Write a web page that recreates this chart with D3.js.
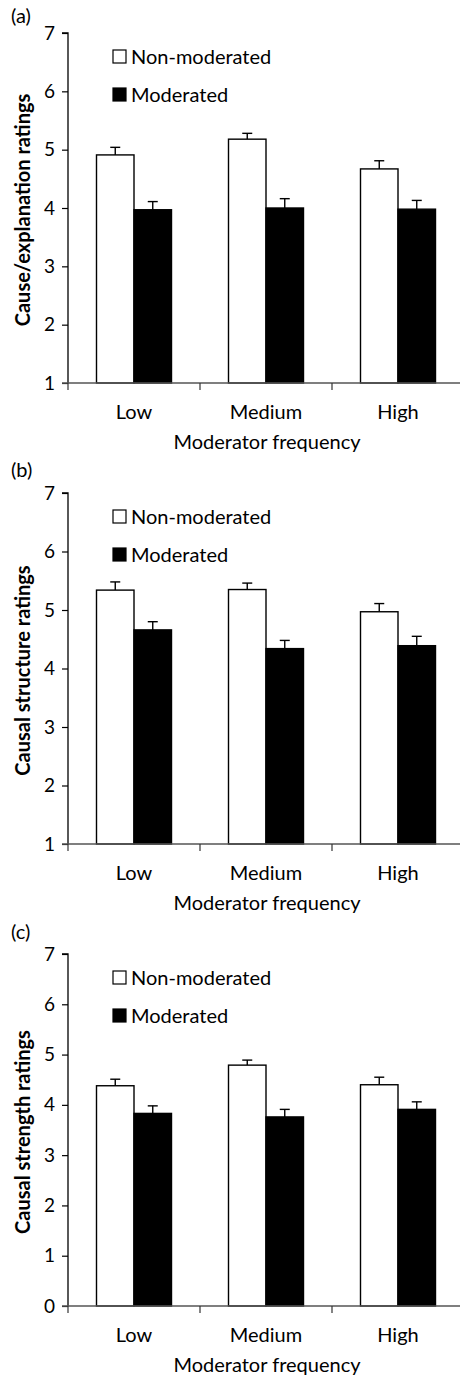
<!DOCTYPE html>
<html>
<head>
<meta charset="utf-8">
<script src="https://cdn.jsdelivr.net/npm/d3@7"></script>
<style>
  body { margin: 0; background: #fff; }
  svg { display: block; font-family: Lato, "Open Sans", sans-serif; }
</style>
</head>
<body>
<div id="chart"></div>
<script>
// categories and series
const categories = ["Low", "Medium", "High"];
const seriesNames = ["Non-moderated", "Moderated"];

// (a) cause/explanation ratings
const causeNon = [4.91, 5.18, 4.67];
const causeNonErr = [0.13, 0.10, 0.14];
const causeMod = [3.97, 4.00, 3.98];
const causeModErr = [0.14, 0.16, 0.15];

// (b) causal structure ratings
const structNon = [5.34, 5.35, 4.97];
const structNonErr = [0.14, 0.11, 0.14];
const structMod = [4.66, 4.34, 4.39];
const structModErr = [0.14, 0.14, 0.16];

// (c) causal strength ratings
const strengthNon = [4.38, 4.79, 4.40];
const strengthNonErr = [0.13, 0.10, 0.15];
const strengthMod = [3.83, 3.76, 3.91];
const strengthModErr = [0.15, 0.15, 0.15];

const yTicksA = [1, 2, 3, 4, 5, 6, 7];
const yTicksC = [0, 1, 2, 3, 4, 5, 6, 7];

const W = 460, H = 1377;
const svg = d3.select("#chart").append("svg")
  .attr("width", W)
  .attr("height", H);

const panels = [
  { tag: "(a)", tagY: 23, title: "Cause/explanation ratings", domain: [1, 7], ticks: yTicksA,
    top: 33, bottom: 383, non: causeNon, nonErr: causeNonErr, mod: causeMod, modErr: causeModErr },
  { tag: "(b)", tagY: 477, title: "Causal structure ratings", domain: [1, 7], ticks: yTicksA,
    top: 493, bottom: 844, non: structNon, nonErr: structNonErr, mod: structMod, modErr: structModErr },
  { tag: "(c)", tagY: 939, title: "Causal strength ratings", domain: [0, 7], ticks: yTicksC,
    top: 954, bottom: 1306, non: strengthNon, nonErr: strengthNonErr, mod: strengthMod, modErr: strengthModErr }
];

const axisLeft = 68, axisRight = 464;

function drawPanel(p) {
  const g = svg.append("g");

  const y = d3.scaleLinear().domain(p.domain).range([p.bottom, p.top]);
  const x0 = d3.scaleBand().domain(categories).range([axisLeft, axisRight]).padding(0);
  const bw = x0.bandwidth();
  const x1 = d3.scaleBand().domain(seriesNames).range([bw / 2 - 37.5, bw / 2 + 37.5]).padding(0);

  const rows = categories.map((c, i) => ({
    cat: c,
    bars: [
      { s: seriesNames[0], v: p.non[i], e: p.nonErr[i], fill: "#fff" },
      { s: seriesNames[1], v: p.mod[i], e: p.modErr[i], fill: "#000" }
    ]
  }));

  const grp = g.selectAll("g.cat").data(rows).enter().append("g")
    .attr("class", "cat")
    .attr("transform", d => `translate(${x0(d.cat)},0)`);

  // error bars, upper half only
  grp.selectAll("g.err").data(d => d.bars).enter().append("g")
    .attr("class", "err")
    .each(function (d) {
      const cx = x1(d.s) + x1.bandwidth() / 2;
      const sel = d3.select(this);
      sel.append("line")
        .attr("x1", cx).attr("x2", cx)
        .attr("y1", y(d.v)).attr("y2", y(d.v + d.e))
        .attr("stroke", "#000").attr("stroke-width", 1.4);
      sel.append("line")
        .attr("x1", cx - 5).attr("x2", cx + 5)
        .attr("y1", y(d.v + d.e)).attr("y2", y(d.v + d.e))
        .attr("stroke", "#000").attr("stroke-width", 1.4);
    });

  grp.selectAll("rect").data(d => d.bars).enter().append("rect")
    .attr("x", d => x1(d.s))
    .attr("y", d => y(d.v))
    .attr("width", x1.bandwidth())
    .attr("height", d => y(p.domain[0]) - y(d.v))
    .attr("fill", d => d.fill)
    .attr("stroke", "#000")
    .attr("stroke-width", 1.4);

  // y axis
  const ya = g.append("g")
    .attr("transform", `translate(${axisLeft},0)`)
    .call(d3.axisLeft(y).tickValues(p.ticks).tickSize(6).tickPadding(7).tickFormat(d3.format("d")));
  ya.select(".domain").attr("stroke", "#000").attr("stroke-width", 1.3).attr("d", `M-6,${p.top}H0V${p.bottom}`);
  ya.selectAll(".tick line").attr("stroke", "#000").attr("stroke-width", 1.2);
  ya.selectAll(".tick text").attr("font-size", 19).attr("fill", "#000").attr("font-family", "Lato, sans-serif");

  // x axis
  const xa = g.append("g").attr("transform", `translate(0,${p.bottom})`);
  xa.append("line")
    .attr("x1", axisLeft - 6).attr("x2", axisRight)
    .attr("stroke", "#555").attr("stroke-width", 1.5);
  xa.selectAll("line.tk").data(categories.concat(["end"])).enter().append("line")
    .attr("class", "tk")
    .attr("x1", (d, i) => i < categories.length ? x0(d) : axisRight)
    .attr("x2", (d, i) => i < categories.length ? x0(d) : axisRight)
    .attr("y1", 0).attr("y2", 7)
    .attr("stroke", "#333").attr("stroke-width", 1.2);
  xa.selectAll("text.cat").data(categories).enter().append("text")
    .attr("class", "cat")
    .attr("x", d => x0(d) + bw / 2)
    .attr("y", 36)
    .attr("text-anchor", "middle")
    .attr("font-size", 20)
    .text(d => d);
  xa.append("text")
    .attr("x", (axisLeft + axisRight) / 2 + 1)
    .attr("y", 66)
    .attr("text-anchor", "middle")
    .attr("font-size", 20)
    .text("Moderator frequency");

  // y title
  g.append("text")
    .attr("transform", `translate(30,${(p.top + p.bottom) / 2 + 2}) rotate(-90)`)
    .attr("text-anchor", "middle")
    .attr("font-size", 20)
    .attr("font-weight", "bold")
    .text(p.title);

  // panel tag
  g.append("text")
    .attr("x", 11)
    .attr("y", p.tagY)
    .attr("font-size", 20)
    .text(p.tag);

  // legend
  const lg = g.append("g").attr("transform", `translate(113,${p.top + 17})`);
  seriesNames.forEach((s, i) => {
    lg.append("rect")
      .attr("x", 0).attr("y", i * 38)
      .attr("width", 13).attr("height", 13)
      .attr("fill", i === 0 ? "#fff" : "#000")
      .attr("stroke", "#000").attr("stroke-width", 1.2);
    lg.append("text")
      .attr("x", 18).attr("y", i * 38 + 13.5)
      .attr("font-size", 20)
      .text(s);
  });
}

panels.forEach(drawPanel);
</script>
</body>
</html>
